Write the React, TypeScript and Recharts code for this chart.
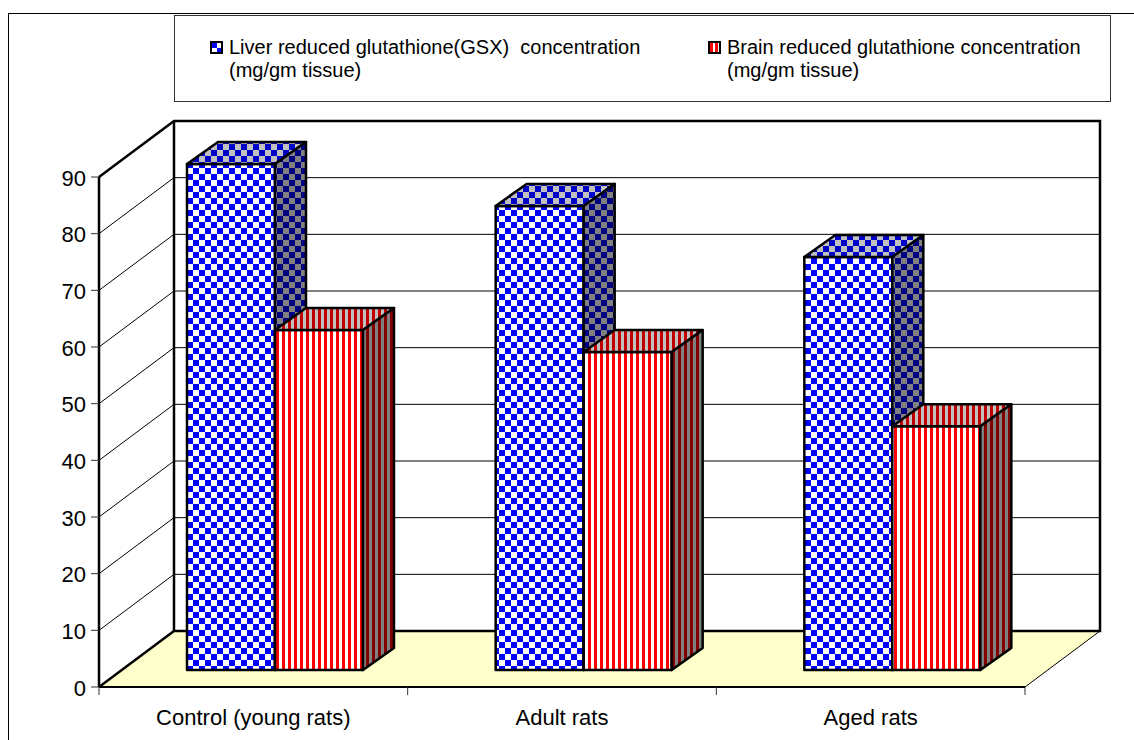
import React from "react"
import { BarChart, Bar, XAxis, YAxis, CartesianGrid, Legend, ReferenceArea } from "recharts"

const categories = ["Control (young rats)", "Adult rats", "Aged rats"]
const liverValues = [89.3, 81.9, 72.9]
const brainValues = [60, 56.1, 43]
const yTicks = [0, 10, 20, 30, 40, 50, 60, 70, 80, 90]
const liverLegend = ["Liver reduced glutathione(GSX)  concentration", "(mg/gm tissue)"]
const brainLegend = ["Brain reduced glutathione concentration", "(mg/gm tissue)"]

const data = categories.map((name, i) => ({ name, liver: liverValues[i], brain: brainValues[i] }))

const FONT = "'Liberation Sans', Arial, sans-serif"

// oblique projection: how far the back wall sits from the front plane
const WALL_DX = 75
const WALL_DY = -56
// bars stand part way into the floor, and have their own depth
const BAR_SHIFT_X = 22
const BAR_SHIFT_Y = -17
const BAR_DX = 31
const BAR_DY = -22

const Box = ({ x, y, width, height, kind }: any) => {
  const left = x + BAR_SHIFT_X
  const top = y + BAR_SHIFT_Y
  const right = left + width
  const bottom = top + height
  const line = { stroke: "#000", strokeWidth: 2.5, strokeLinejoin: "round" as const }
  return (
    <g>
      <rect x={left} y={top} width={width} height={height} fill={`url(#${kind}Front)`} {...line} />
      <polygon
        points={`${left},${top} ${left + BAR_DX},${top + BAR_DY} ${right + BAR_DX},${top + BAR_DY} ${right},${top}`}
        fill={`url(#${kind}Top)`}
        {...line}
      />
      <polygon
        points={`${right},${top} ${right + BAR_DX},${top + BAR_DY} ${right + BAR_DX},${bottom + BAR_DY} ${right},${bottom}`}
        fill={`url(#${kind}Side)`}
        {...line}
      />
    </g>
  )
}

// floor polygon and the heavy outline of the two walls
const Room = ({ x, y, width, height }: any) => {
  const right = x + width
  const bottom = y + height
  const heavy = { stroke: "#000", strokeWidth: 2.5, fill: "none" }
  return (
    <g>
      <polygon
        points={`${x},${bottom} ${x + WALL_DX},${bottom + WALL_DY} ${right + WALL_DX},${bottom + WALL_DY} ${right},${bottom}`}
        fill="#ffffcc"
      />
      <polyline
        points={`${x},${y} ${x + WALL_DX},${y + WALL_DY} ${right + WALL_DX},${y + WALL_DY} ${right + WALL_DX},${bottom + WALL_DY} ${x + WALL_DX},${bottom + WALL_DY} ${x},${bottom}`}
        {...heavy}
      />
      <line x1={x + WALL_DX} y1={y + WALL_DY} x2={x + WALL_DX} y2={bottom + WALL_DY} {...heavy} />
      <line x1={right} y1={bottom} x2={right + WALL_DX} y2={bottom + WALL_DY} stroke="#000" strokeWidth={1} />
    </g>
  )
}

const gridLine = ({ x1, y1, x2, key }: any) => (
  <g key={key}>
    <line x1={x1} y1={y1} x2={x1 + WALL_DX} y2={y1 + WALL_DY} stroke="#000" strokeWidth={1} />
    <line x1={x1 + WALL_DX} y1={y1 + WALL_DY} x2={x2 + WALL_DX} y2={y1 + WALL_DY} stroke="#000" strokeWidth={1} />
  </g>
)

// tick marks sit between the categories, so they are drawn with the label
const CategoryTick = ({ x, y, width, payload, index }: any) => {
  const band = width / categories.length
  const edge = x - band / 2
  return (
    <g>
      <line x1={edge} y1={687} x2={edge} y2={695} stroke="#333" strokeWidth={1} />
      {index === categories.length - 1 && (
        <line x1={edge + band} y1={687} x2={edge + band} y2={695} stroke="#333" strokeWidth={1} />
      )}
      <text x={x} y={y + 30} textAnchor="middle" fontFamily={FONT} fontSize={22} fill="#000">
        {payload.value}
      </text>
    </g>
  )
}

const LiverSwatch = () => (
  <svg width={13} height={13} style={{ position: "absolute", left: 0, top: 5 }}>
    <rect x={1} y={1} width={11} height={11} fill="#fff" stroke="#000" strokeWidth={2} />
    <rect x={2} y={2} width={5} height={5} fill="#0000ff" />
    <rect x={7} y={7} width={4} height={4} fill="#0000ff" />
  </svg>
)

const BrainSwatch = () => (
  <svg width={13} height={13} style={{ position: "absolute", left: 0, top: 5 }}>
    <rect x={1} y={1} width={11} height={11} fill="#fff" stroke="#000" strokeWidth={2} />
    <rect x={2} y={2} width={3} height={9} fill="#ff0000" />
    <rect x={7} y={2} width={3} height={9} fill="#ff0000" />
  </svg>
)

const LegendItem = ({ left, lines, swatch }: { left: number; lines: string[]; swatch: React.ReactNode }) => (
  <div style={{ position: "absolute", left, top: 20, paddingLeft: 19, lineHeight: "23px", whiteSpace: "pre", fontSize: 20, fontFamily: FONT, color: "#000" }}>
    {swatch}
    {lines.map((t) => (
      <div key={t}>{t}</div>
    ))}
  </div>
)

const LegendBox = () => (
  <div style={{ position: "relative", width: 935, height: 85, border: "1px solid #333", background: "#fff" }}>
    <LegendItem left={35} lines={liverLegend} swatch={<LiverSwatch />} />
    <LegendItem left={533} lines={brainLegend} swatch={<BrainSwatch />} />
  </div>
)

const Check = ({ id, a, b }: { id: string; a: string; b: string }) => (
  <pattern id={id} width={12} height={12} patternUnits="userSpaceOnUse" patternTransform="translate(1,0)">
    <rect width={12} height={12} fill={b} />
    <rect width={6} height={6} fill={a} />
    <rect x={6} y={6} width={6} height={6} fill={a} />
  </pattern>
)

const Stripe = ({ id, a, b }: { id: string; a: string; b: string }) => (
  <pattern id={id} width={6} height={6} patternUnits="userSpaceOnUse">
    <rect width={6} height={6} fill={b} />
    <rect width={3} height={6} fill={a} />
  </pattern>
)

export default function App() {
  return (
    <div style={{ position: "absolute", left: 0, top: 0, width: 1134, height: 740, background: "#fff", overflow: "hidden" }}>
      <div style={{ position: "absolute", left: 8, top: 13, right: 0, bottom: 0, borderLeft: "1px solid #000", borderTop: "1px solid #000" }} />
      <div style={{ position: "absolute", left: 0, top: 0 }}>
        <BarChart
          width={1134}
          height={740}
          data={data}
          barSize={88}
          barGap={0}
          margin={{ top: 177, right: 109, bottom: 0, left: 0 }}
          style={{ overflow: "visible" }}
        >
          <defs>
            <Check id="liverFront" a="#0000ff" b="#ffffff" />
            <Check id="liverTop" a="#0000c8" b="#c0c0c0" />
            <Check id="liverSide" a="#000080" b="#808080" />
            <Stripe id="brainFront" a="#ff0000" b="#ffffff" />
            <Stripe id="brainTop" a="#c00000" b="#c0c0c0" />
            <Stripe id="brainSide" a="#800000" b="#808080" />
          </defs>
          <CartesianGrid horizontal={gridLine} vertical={false} />
          <ReferenceArea y1={0} y2={90} shape={Room} ifOverflow="visible" />
          <XAxis
            dataKey="name"
            height={53}
            interval={0}
            tickLine={false}
            axisLine={{ stroke: "#000", strokeWidth: 2 }}
            tick={CategoryTick}
          />
          <YAxis
            width={99}
            domain={[0, 90]}
            ticks={yTicks}
            interval={0}
            tickSize={8}
            tickMargin={5}
            axisLine={{ stroke: "#000", strokeWidth: 2.5 }}
            tickLine={{ stroke: "#333" }}
            tick={{ fontFamily: FONT, fontSize: 22, fill: "#000", dy: 1 }}
          />
          <Legend
            verticalAlign="middle"
            align="center"
            layout="horizontal"
            content={<LegendBox />}
            wrapperStyle={{ left: 174, top: 15, width: 937, height: 87 }}
          />
          <Bar dataKey="liver" isAnimationActive={false} shape={(p: any) => <Box {...p} kind="liver" />} />
          <Bar dataKey="brain" isAnimationActive={false} shape={(p: any) => <Box {...p} kind="brain" />} />
        </BarChart>
      </div>
    </div>
  )
}
